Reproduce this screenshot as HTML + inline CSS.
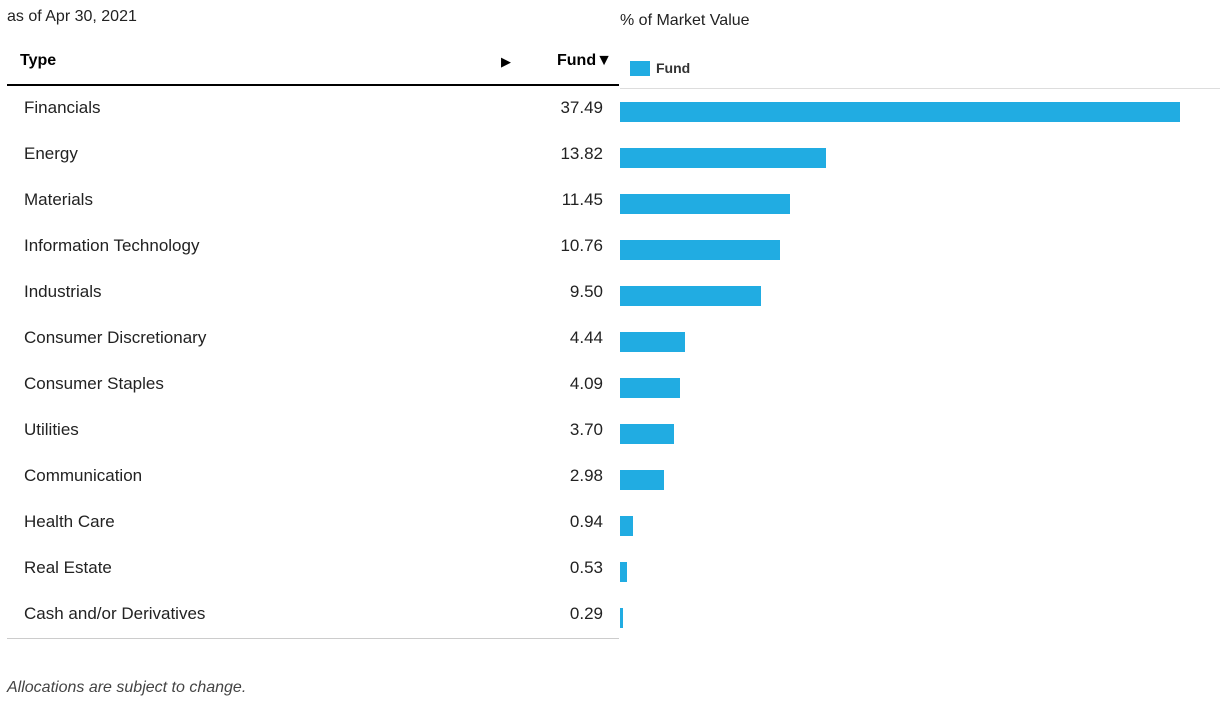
<!DOCTYPE html>
<html><head><meta charset="utf-8"><style>
body{margin:0;width:1232px;height:707px;background:#fff;font-family:"Liberation Sans",sans-serif;color:#222;position:relative;overflow:hidden}
.a{position:absolute;white-space:nowrap}
.lbl{font-size:17px;left:24px}
.val{font-size:17px;right:629px;text-align:right}
</style></head><body>
<div class="a" style="left:7px;top:8px;font-size:16px">as of Apr 30, 2021</div>
<div class="a" style="left:620px;top:12px;font-size:16px">% of Market Value</div>
<div class="a" style="left:20px;top:52px;font-size:16px;font-weight:bold;color:#000">Type</div>
<div class="a" style="left:501px;top:54px;font-size:13px;color:#000">▶</div>
<div class="a" style="left:557px;top:52px;font-size:16px;font-weight:bold;color:#000">Fund▼</div>
<div class="a" style="left:630px;top:60px;font-size:14px;font-weight:bold;color:#333"><span style="display:inline-block;width:20px;height:15px;background:#21ace2;vertical-align:-3px;margin-right:6px"></span>Fund</div>
<div class="a" style="left:7px;top:84px;width:612px;height:2px;background:#000"></div>
<div class="a" style="left:620px;top:88px;width:600px;height:1px;background:#ddd"></div>
<div class="a" style="left:7px;top:638px;width:612px;height:1px;background:#ccc"></div>
<div class="a" style="left:7px;top:679px;font-size:16px;font-style:italic;color:#444">Allocations are subject to change.</div>
<div id="rows"></div>
<script>
const categories=["Financials","Energy","Materials","Information Technology","Industrials","Consumer Discretionary","Consumer Staples","Utilities","Communication","Health Care","Real Estate","Cash and/or Derivatives"];
const values=[37.49,13.82,11.45,10.76,9.50,4.44,4.09,3.70,2.98,0.94,0.53,0.29];
const labels=["37.49","13.82","11.45","10.76","9.50","4.44","4.09","3.70","2.98","0.94","0.53","0.29"];
const x0=620, scale=561/37.49;
function xs(v){return v*scale;}
function ys(i){return 98+46*i;}
const root=document.getElementById('rows');
categories.forEach((c,i)=>{
  const l=document.createElement('div');l.className='a lbl';l.style.top=ys(i)+'px';l.textContent=c;
  
  
  root.appendChild(l);
  const v=document.createElement('div');v.className='a val';v.style.top=ys(i)+'px';v.textContent=labels[i];
  
  
  root.appendChild(v);
  const b=document.createElement('div');b.className='a';
  b.style.cssText=`left:${x0}px;top:${ys(i)+4}px;height:20px;width:${Math.max(2,xs(values[i])-1)}px;background:#21ace2`;
  
  
  root.appendChild(b);
});
</script>
</body></html>
